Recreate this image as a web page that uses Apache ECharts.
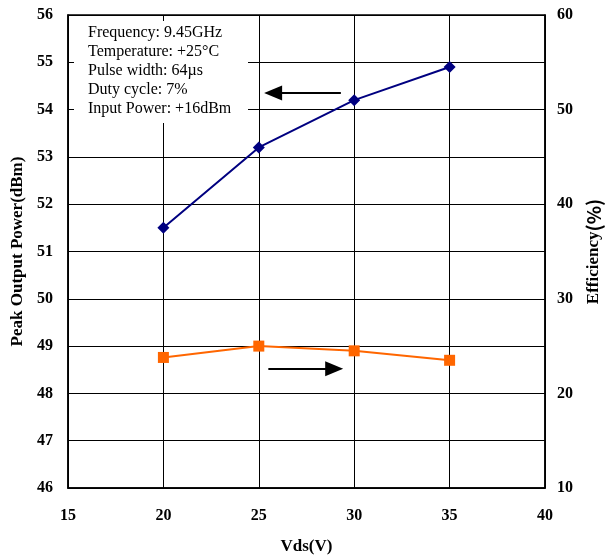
<!DOCTYPE html>
<html>
<head>
<meta charset="utf-8">
<script src="https://cdn.jsdelivr.net/npm/echarts@6/dist/echarts.min.js"></script>
<style>
  html, body { margin: 0; padding: 0; background: #fff; }
  #chart { width: 608px; height: 556px; }
</style>
</head>
<body>
<div id="chart"></div>
<script>
// data
const vds = [20, 25, 30, 35]
const peakPower = [51.5, 53.2, 54.2, 54.9]     // dBm, left axis
const efficiency = [23.8, 25.0, 24.5, 23.5]    // %, right axis
const infoLines = [
  'Frequency: 9.45GHz',
  'Temperature: +25°C',
  'Pulse width: 64µs',
  'Duty cycle: 7%',
  'Input Power: +16dBm'
]
// arrow annotations in data units: [x1, y1] -> [x2, y2] (left axis units)
const powerArrow = [[29.3, 54.35], [25.75, 54.35]]
const effArrow = [[25.5, 48.52], [28.95, 48.52]]

const serif = "'Liberation Serif', 'Times New Roman', serif"
const chart = echarts.init(document.getElementById('chart'))

function arrowLine(pts) {
  return {
    silent: true,
    symbol: ['none', 'triangle'],
    symbolSize: [15, 18],
    label: { show: false },
    lineStyle: { color: '#000', width: 2, type: 'solid' },
    itemStyle: { color: '#000' },
    data: [[{ coord: pts[0] }, { coord: pts[1] }]]
  }
}

const labelStyle = { fontFamily: serif, fontWeight: 'bold', fontSize: 16, color: '#000' }
const nameStyle = { fontFamily: serif, fontWeight: 'bold', fontSize: 17, color: '#000' }

const option = {
  animation: false,
  backgroundColor: '#fff',
  grid: {
    left: 68, right: 63, top: 15, bottom: 68,
    outerBoundsMode: 'none',
    containLabel: false,
    show: true, borderColor: '#000', borderWidth: 1.5
  },
  xAxis: {
    type: 'value',
    min: 15, max: 40, interval: 5,
    name: 'Vds(V)',
    nameLocation: 'middle',
    nameGap: 50,
    nameTextStyle: nameStyle,
    axisLine: { show: true, lineStyle: { color: '#000', width: 1.5 } },
    axisTick: { show: false },
    axisLabel: { ...labelStyle, margin: 20 },
    splitLine: { show: true, lineStyle: { color: '#000', width: 1 } }
  },
  yAxis: [
    {
      type: 'value',
      min: 46, max: 56, interval: 1,
      name: 'Peak Output Power(dBm)',
      nameLocation: 'middle',
      nameGap: 34,
      nameTextStyle: nameStyle,
      axisLine: { show: true, lineStyle: { color: '#000', width: 1.5 } },
      axisTick: { show: true, inside: true, length: 5, lineStyle: { color: '#000' } },
      axisLabel: { ...labelStyle, margin: 15 },
      splitLine: { show: true, lineStyle: { color: '#000', width: 1 } }
    },
    {
      type: 'value',
      min: 10, max: 60, interval: 5,
      position: 'right',
      name: '{a|Efficiency}{b|(%)}',
      nameLocation: 'middle',
      nameGap: 37,
      nameRotate: 90,
      nameTextStyle: {
        ...nameStyle,
        rich: {
          a: { fontFamily: serif, fontWeight: 'bold', fontSize: 17, color: '#000' },
          b: { fontFamily: "'Noto Sans CJK SC', sans-serif", fontWeight: 'bold', fontSize: 19, color: '#000' }
        }
      },
      axisLine: { show: true, lineStyle: { color: '#000', width: 1.5 } },
      axisTick: { show: false },
      axisLabel: {
        ...labelStyle, margin: 12,
        formatter: v => (v % 10 === 0 ? String(v) : '')
      },
      splitLine: { show: false }
    }
  ],
  graphic: [
    {
      type: 'rect',
      left: 74, top: 21, z: 100,
      shape: { width: 174, height: 102 },
      style: { fill: '#fff' }
    },
    {
      type: 'text',
      left: 88, top: 23, z: 101,
      style: {
        text: infoLines.join('\n'),
        font: '16px ' + serif,
        lineHeight: 19,
        fill: '#000'
      }
    }
  ],
  series: [
    {
      name: 'Peak Output Power',
      type: 'line',
      yAxisIndex: 0,
      data: vds.map((x, i) => [x, peakPower[i]]),
      symbol: 'diamond',
      symbolSize: 12,
      lineStyle: { color: '#000080', width: 2 },
      itemStyle: { color: '#000080' },
      markLine: arrowLine(powerArrow)
    },
    {
      name: 'Efficiency',
      type: 'line',
      yAxisIndex: 1,
      data: vds.map((x, i) => [x, efficiency[i]]),
      symbol: 'rect',
      symbolSize: 11,
      lineStyle: { color: '#FF6600', width: 2 },
      itemStyle: { color: '#FF6600' }
    },
    {
      name: 'arrow',
      type: 'line',
      yAxisIndex: 0,
      data: [],
      markLine: arrowLine(effArrow)
    }
  ]
}

chart.setOption(option)
</script>
</body>
</html>
